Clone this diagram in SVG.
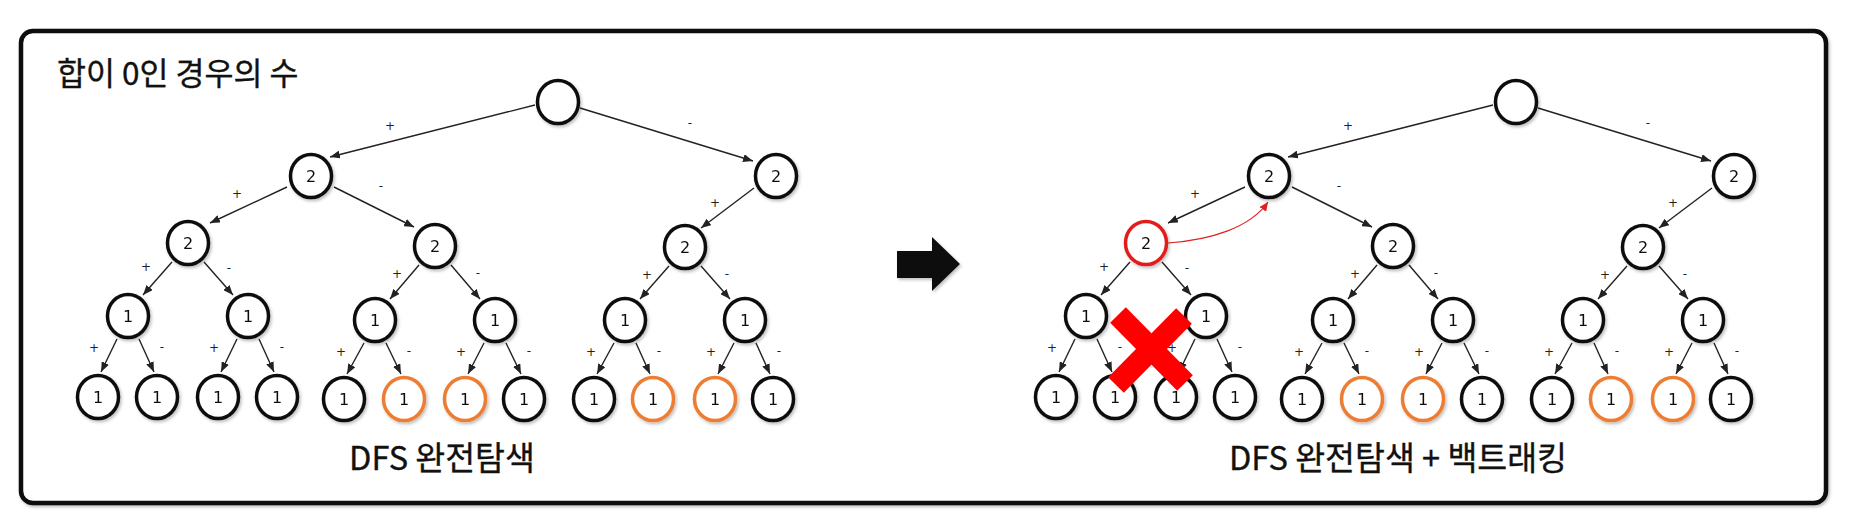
<svg xmlns="http://www.w3.org/2000/svg" width="1849" height="523" viewBox="0 0 1849 523">
<defs>
<style>
.frame{fill:#fff;stroke:#0a0a0a;stroke-width:4.5}
.node ellipse{fill:#fff;stroke:#111;stroke-width:3.5}
.node.orange ellipse{stroke:#ED7D31}
.node.red ellipse{stroke:#E21F1F}
.nt{font-family:"DejaVu Sans","Liberation Sans",sans-serif;font-size:16px;text-anchor:middle;fill:#111}
.edge{stroke:#222;stroke-width:1.4;fill:none;marker-end:url(#ah)}
.el{font-family:"DejaVu Sans","Liberation Sans",sans-serif;font-size:12px;text-anchor:middle;fill:#222}
.kr{font-family:"Noto Sans CJK KR","Noto Sans",sans-serif;fill:#111;font-weight:400;stroke:#111;stroke-width:0.35}
.sh{filter:url(#ds)}
</style>
<marker id="ah" markerUnits="userSpaceOnUse" markerWidth="10" markerHeight="8" refX="10" refY="4" orient="auto"><path d="M0,0 L10,4 L0,8 z" fill="#222"/></marker>
<marker id="ahr" markerUnits="userSpaceOnUse" markerWidth="9" markerHeight="8" refX="9" refY="4" orient="auto"><path d="M0,0 L9,4 L0,8 z" fill="#E21F1F"/></marker>
<filter id="ds" x="-20%" y="-20%" width="140%" height="140%"><feDropShadow dx="1.5" dy="2" stdDeviation="1.5" flood-color="#000" flood-opacity="0.25"/></filter>
</defs>
<rect width="1849" height="523" fill="#fff"/>
<rect id="frame" class="frame sh" x="21" y="31" width="1805" height="472" rx="12"/>
<text id="title" class="kr" x="57" y="85" font-size="31.5">합이 0인 경우의 수</text>

<g id="connectors">
<line class="edge" x1="535" y1="105" x2="330" y2="157"/>
<line class="edge" x1="580" y1="108" x2="753" y2="161"/>
<line class="edge" x1="287" y1="187" x2="210" y2="223"/>
<line class="edge" x1="334" y1="187" x2="414" y2="227"/>
<line class="edge" x1="754" y1="188" x2="701" y2="228"/>
<line class="edge" x1="172" y1="262" x2="143" y2="295"/>
<line class="edge" x1="204" y1="262" x2="233" y2="295"/>
<line class="edge" x1="419" y1="265" x2="390" y2="299"/>
<line class="edge" x1="451" y1="265" x2="480" y2="299"/>
<line class="edge" x1="669" y1="266" x2="640" y2="299"/>
<line class="edge" x1="701" y1="266" x2="730" y2="299"/>
<line class="edge" x1="117" y1="339" x2="101" y2="372"/>
<line class="edge" x1="139" y1="339" x2="154" y2="372"/>
<line class="edge" x1="237" y1="339" x2="221" y2="372"/>
<line class="edge" x1="259" y1="339" x2="274" y2="372"/>
<line class="edge" x1="364" y1="343" x2="347" y2="374"/>
<line class="edge" x1="386" y1="343" x2="401" y2="374"/>
<line class="edge" x1="484" y1="343" x2="468" y2="374"/>
<line class="edge" x1="506" y1="343" x2="521" y2="374"/>
<line class="edge" x1="614" y1="343" x2="597" y2="374"/>
<line class="edge" x1="636" y1="343" x2="650" y2="374"/>
<line class="edge" x1="734" y1="343" x2="718" y2="374"/>
<line class="edge" x1="756" y1="343" x2="770" y2="374"/>
<line class="edge" x1="1493" y1="105" x2="1288" y2="157"/>
<line class="edge" x1="1538" y1="108" x2="1711" y2="161"/>
<line class="edge" x1="1245" y1="187" x2="1168" y2="223"/>
<line class="edge" x1="1292" y1="187" x2="1372" y2="227"/>
<line class="edge" x1="1712" y1="188" x2="1659" y2="228"/>
<line class="edge" x1="1130" y1="262" x2="1101" y2="295"/>
<line class="edge" x1="1162" y1="262" x2="1191" y2="295"/>
<line class="edge" x1="1377" y1="265" x2="1348" y2="299"/>
<line class="edge" x1="1409" y1="265" x2="1438" y2="299"/>
<line class="edge" x1="1627" y1="266" x2="1598" y2="299"/>
<line class="edge" x1="1659" y1="266" x2="1688" y2="299"/>
<line class="edge" x1="1075" y1="339" x2="1059" y2="372"/>
<line class="edge" x1="1097" y1="339" x2="1112" y2="372"/>
<line class="edge" x1="1195" y1="339" x2="1179" y2="372"/>
<line class="edge" x1="1217" y1="339" x2="1232" y2="372"/>
<line class="edge" x1="1322" y1="343" x2="1305" y2="374"/>
<line class="edge" x1="1344" y1="343" x2="1359" y2="374"/>
<line class="edge" x1="1442" y1="343" x2="1426" y2="374"/>
<line class="edge" x1="1464" y1="343" x2="1479" y2="374"/>
<line class="edge" x1="1572" y1="343" x2="1555" y2="374"/>
<line class="edge" x1="1594" y1="343" x2="1608" y2="374"/>
<line class="edge" x1="1692" y1="343" x2="1676" y2="374"/>
<line class="edge" x1="1714" y1="343" x2="1728" y2="374"/>
<path d="M1168,243 C1210,240 1250,228 1268,202" fill="none" stroke="#E21F1F" stroke-width="1.2" marker-end="url(#ahr)"/>
<text class="el" x="390" y="130">+</text><text class="el" x="690" y="127">-</text>
<text class="el" x="237" y="198">+</text><text class="el" x="381" y="190">-</text>
<text class="el" x="715" y="207">+</text>
<text class="el" x="146" y="271">+</text><text class="el" x="229" y="272">-</text>
<text class="el" x="397" y="278">+</text><text class="el" x="478" y="277">-</text>
<text class="el" x="647" y="279">+</text><text class="el" x="727" y="278">-</text>
<text class="el" x="94" y="352">+</text><text class="el" x="162" y="351">-</text>
<text class="el" x="214" y="352">+</text><text class="el" x="282" y="351">-</text>
<text class="el" x="341" y="356">+</text><text class="el" x="409" y="355">-</text>
<text class="el" x="461" y="356">+</text><text class="el" x="529" y="355">-</text>
<text class="el" x="591" y="356">+</text><text class="el" x="659" y="355">-</text>
<text class="el" x="711" y="356">+</text><text class="el" x="779" y="355">-</text>
<text class="el" x="1348" y="130">+</text><text class="el" x="1648" y="127">-</text>
<text class="el" x="1195" y="198">+</text><text class="el" x="1339" y="190">-</text>
<text class="el" x="1673" y="207">+</text>
<text class="el" x="1104" y="271">+</text><text class="el" x="1187" y="272">-</text>
<text class="el" x="1355" y="278">+</text><text class="el" x="1436" y="277">-</text>
<text class="el" x="1605" y="279">+</text><text class="el" x="1685" y="278">-</text>
<text class="el" x="1052" y="352">+</text><text class="el" x="1120" y="351">-</text>
<text class="el" x="1172" y="352">+</text><text class="el" x="1240" y="351">-</text>
<text class="el" x="1299" y="356">+</text><text class="el" x="1367" y="355">-</text>
<text class="el" x="1419" y="356">+</text><text class="el" x="1487" y="355">-</text>
<text class="el" x="1549" y="356">+</text><text class="el" x="1617" y="355">-</text>
<text class="el" x="1669" y="356">+</text><text class="el" x="1737" y="355">-</text>
</g>

<g id="l-root" class="node sh"><ellipse cx="558" cy="102" rx="20.5" ry="21.5"/></g>
<g id="l-a" class="node sh"><ellipse cx="311" cy="176" rx="20.5" ry="21.5"/><text class="nt" x="311" y="182">2</text></g>
<g id="l-b" class="node sh"><ellipse cx="776" cy="176" rx="20.5" ry="21.5"/><text class="nt" x="776" y="182">2</text></g>
<g id="l-a1" class="node sh"><ellipse cx="188" cy="243" rx="20.5" ry="21.5"/><text class="nt" x="188" y="249">2</text></g>
<g id="l-a2" class="node sh"><ellipse cx="435" cy="246" rx="20.5" ry="21.5"/><text class="nt" x="435" y="252">2</text></g>
<g id="l-b1" class="node sh"><ellipse cx="685" cy="247" rx="20.5" ry="21.5"/><text class="nt" x="685" y="253">2</text></g>
<g id="l-a1a" class="node sh"><ellipse cx="128" cy="316" rx="20.5" ry="21.5"/><text class="nt" x="128" y="322">1</text></g>
<g id="l-a1b" class="node sh"><ellipse cx="248" cy="316" rx="20.5" ry="21.5"/><text class="nt" x="248" y="322">1</text></g>
<g id="l-a2a" class="node sh"><ellipse cx="375" cy="320" rx="20.5" ry="21.5"/><text class="nt" x="375" y="326">1</text></g>
<g id="l-a2b" class="node sh"><ellipse cx="495" cy="320" rx="20.5" ry="21.5"/><text class="nt" x="495" y="326">1</text></g>
<g id="l-b1a" class="node sh"><ellipse cx="625" cy="320" rx="20.5" ry="21.5"/><text class="nt" x="625" y="326">1</text></g>
<g id="l-b1b" class="node sh"><ellipse cx="745" cy="320" rx="20.5" ry="21.5"/><text class="nt" x="745" y="326">1</text></g>
<g id="l-leaf1" class="node sh"><ellipse cx="98" cy="397" rx="20.5" ry="21.5"/><text class="nt" x="98" y="403">1</text></g>
<g id="l-leaf2" class="node sh"><ellipse cx="157" cy="397" rx="20.5" ry="21.5"/><text class="nt" x="157" y="403">1</text></g>
<g id="l-leaf3" class="node sh"><ellipse cx="218" cy="397" rx="20.5" ry="21.5"/><text class="nt" x="218" y="403">1</text></g>
<g id="l-leaf4" class="node sh"><ellipse cx="277" cy="397" rx="20.5" ry="21.5"/><text class="nt" x="277" y="403">1</text></g>
<g id="l-leaf5" class="node sh"><ellipse cx="344" cy="399" rx="20.5" ry="21.5"/><text class="nt" x="344" y="405">1</text></g>
<g id="l-leaf6" class="node orange sh"><ellipse cx="404" cy="399" rx="20.5" ry="21.5"/><text class="nt" x="404" y="405">1</text></g>
<g id="l-leaf7" class="node orange sh"><ellipse cx="465" cy="399" rx="20.5" ry="21.5"/><text class="nt" x="465" y="405">1</text></g>
<g id="l-leaf8" class="node sh"><ellipse cx="524" cy="399" rx="20.5" ry="21.5"/><text class="nt" x="524" y="405">1</text></g>
<g id="l-leaf9" class="node sh"><ellipse cx="594" cy="399" rx="20.5" ry="21.5"/><text class="nt" x="594" y="405">1</text></g>
<g id="l-leaf10" class="node orange sh"><ellipse cx="653" cy="399" rx="20.5" ry="21.5"/><text class="nt" x="653" y="405">1</text></g>
<g id="l-leaf11" class="node orange sh"><ellipse cx="715" cy="399" rx="20.5" ry="21.5"/><text class="nt" x="715" y="405">1</text></g>
<g id="l-leaf12" class="node sh"><ellipse cx="773" cy="399" rx="20.5" ry="21.5"/><text class="nt" x="773" y="405">1</text></g>
<text id="l-caption" class="kr" x="442" y="470" font-size="32.5" text-anchor="middle">DFS 완전탐색</text>

<g id="arrow-icon" class="sh"><polygon points="897,251 932,251 932,237 960,264 932,291 932,278 897,278" fill="#111"/></g>

<g id="r-root" class="node sh"><ellipse cx="1516" cy="102" rx="20.5" ry="21.5"/></g>
<g id="r-a" class="node sh"><ellipse cx="1269" cy="176" rx="20.5" ry="21.5"/><text class="nt" x="1269" y="182">2</text></g>
<g id="r-b" class="node sh"><ellipse cx="1734" cy="176" rx="20.5" ry="21.5"/><text class="nt" x="1734" y="182">2</text></g>
<g id="r-a1" class="node red sh"><ellipse cx="1146" cy="243" rx="20.5" ry="21.5"/><text class="nt" x="1146" y="249">2</text></g>
<g id="r-a2" class="node sh"><ellipse cx="1393" cy="246" rx="20.5" ry="21.5"/><text class="nt" x="1393" y="252">2</text></g>
<g id="r-b1" class="node sh"><ellipse cx="1643" cy="247" rx="20.5" ry="21.5"/><text class="nt" x="1643" y="253">2</text></g>
<g id="r-a1a" class="node sh"><ellipse cx="1086" cy="316" rx="20.5" ry="21.5"/><text class="nt" x="1086" y="322">1</text></g>
<g id="r-a1b" class="node sh"><ellipse cx="1206" cy="316" rx="20.5" ry="21.5"/><text class="nt" x="1206" y="322">1</text></g>
<g id="r-a2a" class="node sh"><ellipse cx="1333" cy="320" rx="20.5" ry="21.5"/><text class="nt" x="1333" y="326">1</text></g>
<g id="r-a2b" class="node sh"><ellipse cx="1453" cy="320" rx="20.5" ry="21.5"/><text class="nt" x="1453" y="326">1</text></g>
<g id="r-b1a" class="node sh"><ellipse cx="1583" cy="320" rx="20.5" ry="21.5"/><text class="nt" x="1583" y="326">1</text></g>
<g id="r-b1b" class="node sh"><ellipse cx="1703" cy="320" rx="20.5" ry="21.5"/><text class="nt" x="1703" y="326">1</text></g>
<g id="r-leaf1" class="node sh"><ellipse cx="1056" cy="397" rx="20.5" ry="21.5"/><text class="nt" x="1056" y="403">1</text></g>
<g id="r-leaf2" class="node sh"><ellipse cx="1115" cy="397" rx="20.5" ry="21.5"/><text class="nt" x="1115" y="403">1</text></g>
<g id="r-leaf3" class="node sh"><ellipse cx="1176" cy="397" rx="20.5" ry="21.5"/><text class="nt" x="1176" y="403">1</text></g>
<g id="r-leaf4" class="node sh"><ellipse cx="1235" cy="397" rx="20.5" ry="21.5"/><text class="nt" x="1235" y="403">1</text></g>
<g id="r-leaf5" class="node sh"><ellipse cx="1302" cy="399" rx="20.5" ry="21.5"/><text class="nt" x="1302" y="405">1</text></g>
<g id="r-leaf6" class="node orange sh"><ellipse cx="1362" cy="399" rx="20.5" ry="21.5"/><text class="nt" x="1362" y="405">1</text></g>
<g id="r-leaf7" class="node orange sh"><ellipse cx="1423" cy="399" rx="20.5" ry="21.5"/><text class="nt" x="1423" y="405">1</text></g>
<g id="r-leaf8" class="node sh"><ellipse cx="1482" cy="399" rx="20.5" ry="21.5"/><text class="nt" x="1482" y="405">1</text></g>
<g id="r-leaf9" class="node sh"><ellipse cx="1552" cy="399" rx="20.5" ry="21.5"/><text class="nt" x="1552" y="405">1</text></g>
<g id="r-leaf10" class="node orange sh"><ellipse cx="1611" cy="399" rx="20.5" ry="21.5"/><text class="nt" x="1611" y="405">1</text></g>
<g id="r-leaf11" class="node orange sh"><ellipse cx="1673" cy="399" rx="20.5" ry="21.5"/><text class="nt" x="1673" y="405">1</text></g>
<g id="r-leaf12" class="node sh"><ellipse cx="1731" cy="399" rx="20.5" ry="21.5"/><text class="nt" x="1731" y="405">1</text></g>

<g id="prune-x"><line x1="1118" y1="315" x2="1185" y2="383" stroke="#FF0000" stroke-width="22"/><line x1="1184" y1="316" x2="1116" y2="385" stroke="#FF0000" stroke-width="22"/></g>

<text id="r-caption" class="kr" x="1398" y="470" font-size="32.5" text-anchor="middle">DFS 완전탐색 + 백트래킹</text>
</svg>
